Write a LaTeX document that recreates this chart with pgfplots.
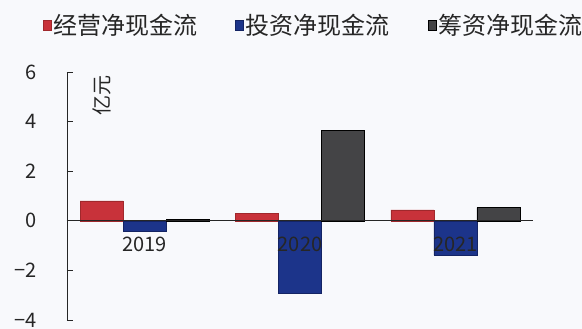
\documentclass[border=0pt]{standalone}
\usepackage{fontspec}
\setmainfont{Noto Sans CJK SC}
\usepackage{pgfplots}
\pgfplotsset{compat=1.18}
\definecolor{cRed}{RGB}{200,50,58}
\definecolor{cRedD}{RGB}{160,40,44}
\definecolor{cBlue}{RGB}{28,52,138}
\definecolor{cBlueD}{RGB}{20,36,100}
\definecolor{cGray}{RGB}{68,68,70}
\definecolor{bg}{RGB}{248,249,252}
\begin{document}
\begin{tikzpicture}
\fill[bg] (-67bp,-9bp) rectangle (515bp,320bp);
\useasboundingbox (-67bp,-9bp) rectangle (515bp,320bp);
\begin{axis}[
  at={(0,0)}, anchor=south west,
  scale only axis, width=466bp, height=248bp,
  xmin=-0.5, xmax=2.5, ymin=-4, ymax=6,
  axis x line=middle, axis y line=left,
  axis line style={-, line width=0.9bp, color=black!85},
  axis on top,
  ybar=0pt, bar width=43bp,
  xtick={0,1,2}, xticklabels={2019,2020,2021},
  ytick={-4,-2,0,2,4,6}, yticklabels={−4,−2,0,2,4,6},
  tick align=inside, major tick length=6bp,
  tick style={line width=0.9bp, color=black!85},
  xtick style={draw=none},
  ticklabel style={font=\fontsize{20bp}{24bp}\selectfont, text=black!85},
  yticklabel style={xshift=-27bp},
  xticklabel style={yshift=-13bp},
  ylabel={亿元},
  ylabel style={at={(rel axis cs:0.075,0.907)}, anchor=center, font=\fontsize{20bp}{24bp}\selectfont, text=black!85},
  legend columns=3,
  legend style={draw=none, fill=none, inner sep=0pt, outer sep=0pt,
    at={(rel axis cs:-0.0515,1.19)}, anchor=west,
    font=\fontsize{24bp}{28bp}\selectfont, text=black!85,
    /tikz/every even column/.append style={column sep=36bp}},
  legend image code/.code={\fill[#1] (0bp,-5bp) rectangle (8bp,5bp);},
]
\addplot[fill=cRed, draw=cRedD, line width=0.5bp] coordinates {(0,0.80) (1,0.30) (2,0.44)};
\addplot[fill=cBlue, draw=cBlueD, line width=0.5bp] coordinates {(0,-0.41) (1,-2.92) (2,-1.38)};
\addplot[fill=cGray, draw=black, line width=0.5bp] coordinates {(0,0.07) (1,3.66) (2,0.53)};
\legend{经营净现金流,投资净现金流,筹资净现金流}
\end{axis}
\end{tikzpicture}
\end{document}
